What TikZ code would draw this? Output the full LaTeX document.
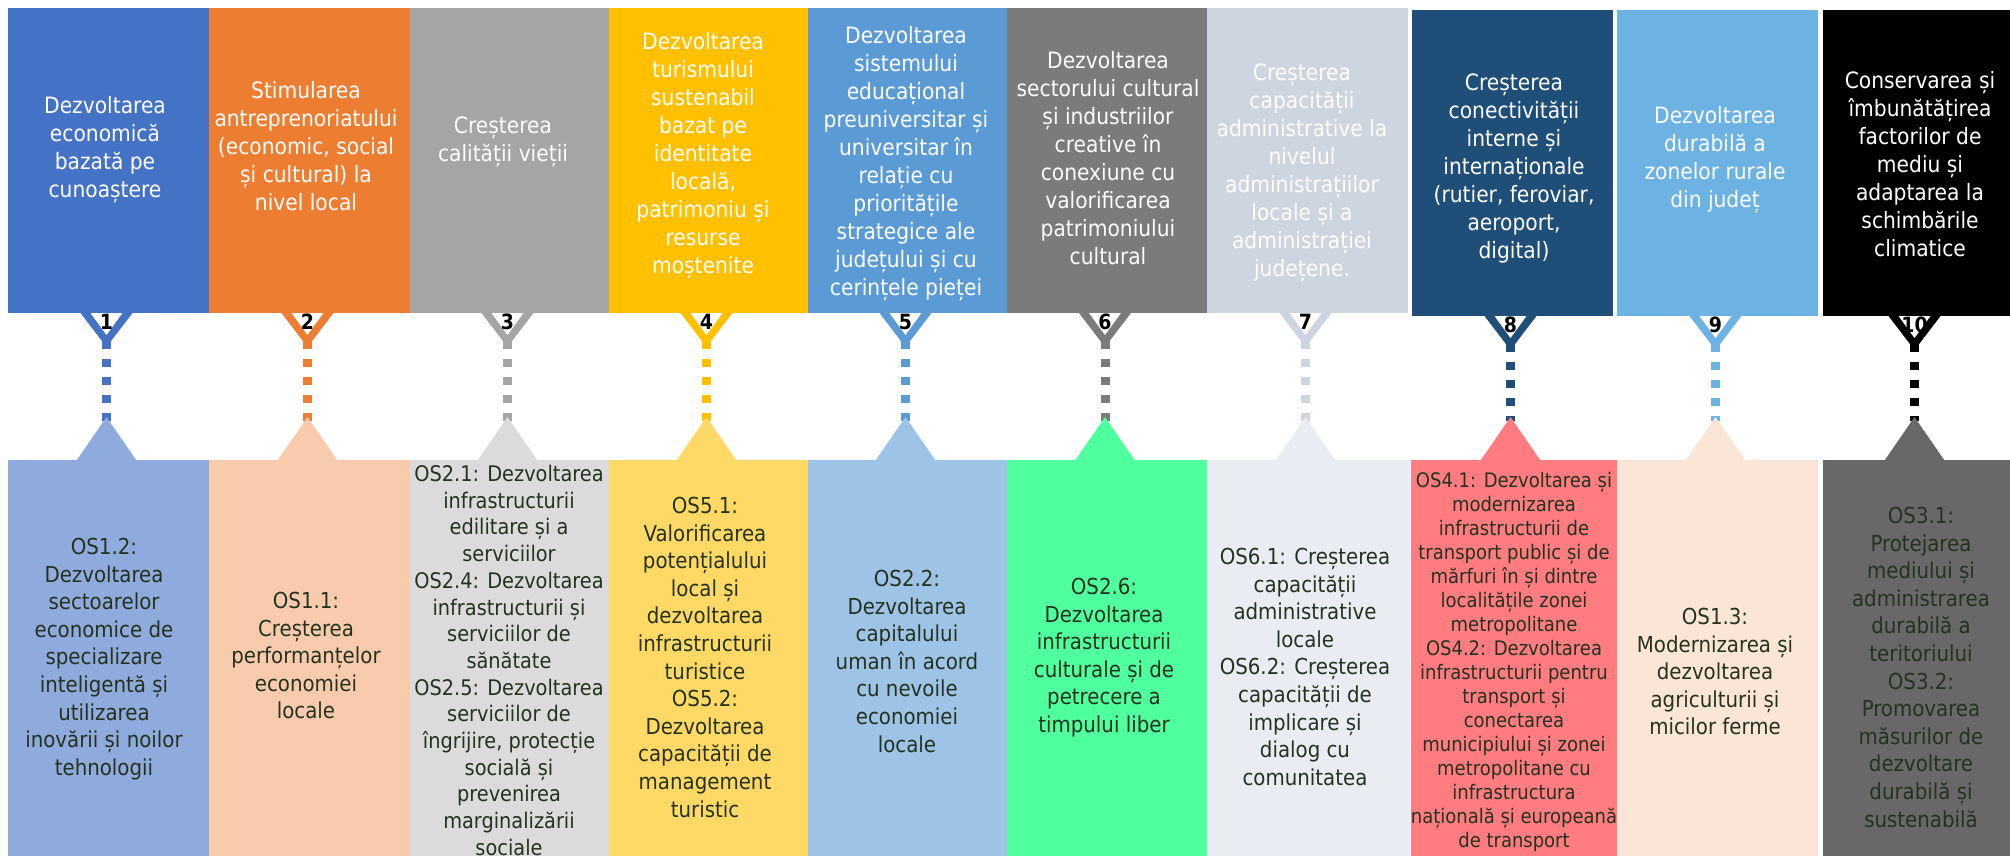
\documentclass[tikz,border=0pt]{standalone}
\usepackage{fontspec}
\setmainfont{DejaVu Sans Condensed}
\usetikzlibrary{calc}
\definecolor{tA}{HTML}{4472C4}
\definecolor{tB}{HTML}{ED7D31}
\definecolor{tC}{HTML}{A5A5A5}
\definecolor{tD}{HTML}{FFC000}
\definecolor{tE}{HTML}{5B9BD5}
\definecolor{tF}{HTML}{7B7B7B}
\definecolor{tG}{HTML}{CDD5E0}
\definecolor{tH}{HTML}{1F4E79}
\definecolor{tI}{HTML}{6CB2E2}
\definecolor{tJ}{HTML}{000000}
\definecolor{bA}{HTML}{8FAADC}
\definecolor{bB}{HTML}{F8CBAD}
\definecolor{bC}{HTML}{DBDBDB}
\definecolor{bD}{HTML}{FFD966}
\definecolor{bE}{HTML}{9DC3E6}
\definecolor{bF}{HTML}{50FF9E}
\definecolor{bG}{HTML}{E9EDF3}
\definecolor{bH}{HTML}{FF7C80}
\definecolor{bI}{HTML}{FBE5D6}
\definecolor{bJ}{HTML}{686868}
\definecolor{txtdark}{HTML}{25321F}
\begin{document}
\begin{tikzpicture}[x=1pt,y=-1pt,
  box/.style={rectangle,draw=none,inner sep=0pt,outer sep=0pt,anchor=north west},
  ttext/.style={anchor=north,inner sep=0pt,align=center,text=white,font=\fontsize{22.5}{28}\selectfont},
  btext/.style={anchor=north,inner sep=0pt,align=center,text=txtdark,font=\fontsize{22}{27.6}\selectfont},
  num/.style={inner sep=0pt,text=black,font=\bfseries\fontsize{21}{21}\selectfont},
  dashline/.style={line width=9pt,dash pattern=on 8pt off 10pt}]
\useasboundingbox (0,0) rectangle (2010,855);
\clip (0,0) rectangle (2010,855);
\fill[white] (0,0) rectangle (2010,855);
\foreach \i/\l/\w/\t/\h/\ct/\bl/\bw/\cb in {
  1/8/201/8/305/tA/8/201/bA,
  2/209/201/8/305/tB/209/201/bB,
  3/410/199/8/305/tC/410/199/bC,
  4/609/199/8/305/tD/609/199/bD,
  5/808/199/8/305/tE/808/199/bE,
  6/1007/200/8/305/tF/1007/200/bF,
  7/1207/201/8/305/tG/1207/203/bG,
  8/1412/201/10/306/tH/1411/206/bH,
  9/1617/201/10/306/tI/1617/201/bI,
  10/1823/187/10/306/tJ/1823/187/bJ}{
  \node[box,fill=\ct,minimum width=\w pt,minimum height=\h pt] (t\i) at (\l,\t) {};
  \node[box,fill=\cb,minimum width=\bw pt,minimum height=400pt] (b\i) at (\bl,460) {};
  \coordinate (m\i) at ($(t\i.south)+(-2,0)$);
  \coordinate (v\i) at ($(m\i)+(0,28)$);
  \coordinate (w\i) at ($(m\i |- b\i.north)+(0,-39)$);
  \draw[dashline,draw=\ct] (v\i) -- (w\i);
  \fill[\ct] ($(m\i)+(-26,0)$) -- ($(m\i)+(26,0)$) -- ($(m\i)+(0,34)$) -- cycle;
  \fill[white] ($(m\i)+(-16,0)$) -- ($(m\i)+(16,0)$) -- ($(m\i)+(0,22)$) -- cycle;
  \node[num] (n\i) at ($(m\i)+(0,9)$) {\i};
  \fill[\cb] ($(m\i |- b\i.north)+(-30,0.5)$) -- ($(m\i |- b\i.north)+(30,0.5)$) -- ($(m\i |- b\i.north)+(0,-43)$) -- cycle;
}
% headings
\node[ttext] (h1) at (105,96) {Dezvoltarea\\economică\\bazată pe\\cunoaștere};
\node[ttext] (h2) at (306,81) {Stimularea\\antreprenoriatului\\(economic, social\\și cultural) la\\nivel local};
\node[ttext] (h3) at (503,117) {Creșterea\\calității vieții};
\node[ttext] (h4) at (703,32) {Dezvoltarea\\turismului\\sustenabil\\bazat pe\\identitate\\locală,\\patrimoniu și\\resurse\\moștenite};
\node[ttext] (h5) at (906,26) {Dezvoltarea\\sistemului\\educațional\\preuniversitar și\\universitar în\\relație cu\\prioritățile\\strategice ale\\județului și cu\\cerințele pieței};
\node[ttext] (h6) at (1108,51) {Dezvoltarea\\sectorului cultural\\și industriilor\\creative în\\conexiune cu\\valorificarea\\patrimoniului\\cultural};
\node[ttext] (h7) at (1302,64) {Creșterea\\capacității\\administrative la\\nivelul\\administrațiilor\\locale și a\\administrației\\județene.};
\node[ttext] (h8) at (1514,74) {Creșterea\\conectivității\\interne și\\internaționale\\(rutier, feroviar,\\aeroport,\\digital)};
\node[ttext] (h9) at (1715,106) {Dezvoltarea\\durabilă a\\zonelor rurale\\din județ};
\node[ttext] (h10) at (1920,71) {Conservarea și\\îmbunătățirea\\factorilor de\\mediu și\\adaptarea la\\schimbările\\climatice};
% objectives
\node[btext] (o1) at (104,538) {OS1.2:\\Dezvoltarea\\sectoarelor\\economice de\\specializare\\inteligentă  și\\utilizarea\\inovării și noilor\\tehnologii};
\node[btext] (o2) at (306,592) {OS1.1:\\Creșterea\\performanțelor\\economiei\\locale};
\node[btext,font=\fontsize{21.5}{26.7}\selectfont] (o3) at (509,465) {OS2.1: Dezvoltarea\\infrastructurii\\edilitare și a\\serviciilor\\OS2.4: Dezvoltarea\\infrastructurii și\\serviciilor de\\sănătate\\OS2.5: Dezvoltarea\\serviciilor de\\îngrijire, protecție\\socială și\\prevenirea\\marginalizării\\sociale};
\node[btext] (o4) at (705,497) {OS5.1:\\Valorificarea\\potențialului\\local și\\dezvoltarea\\infrastructurii\\turistice\\OS5.2:\\Dezvoltarea\\capacității de\\management\\turistic};
\node[btext] (o5) at (907,570) {OS2.2:\\Dezvoltarea\\capitalului\\uman în acord\\cu nevoile\\economiei\\locale};
\node[btext] (o6) at (1104,578) {OS2.6:\\Dezvoltarea\\infrastructurii\\culturale și de\\petrecere a\\timpului liber};
\node[btext] (o7) at (1305,548) {OS6.1: Creșterea\\capacității\\administrative\\locale\\OS6.2: Creșterea\\capacității de\\implicare și\\dialog cu\\comunitatea};
\node[btext,font=\fontsize{20}{24}\selectfont] (o8) at (1514,472) {OS4.1: Dezvoltarea și\\modernizarea\\infrastructurii de\\transport public și de\\mărfuri în și dintre\\localitățile zonei\\metropolitane\\OS4.2: Dezvoltarea\\infrastructurii pentru\\transport și\\conectarea\\municipiului și zonei\\metropolitane cu\\infrastructura\\națională și europeană\\de transport};
\node[btext] (o9) at (1715,608) {OS1.3:\\Modernizarea și\\dezvoltarea\\agriculturii și\\micilor ferme};
\node[btext] (o10) at (1921,507) {OS3.1:\\Protejarea\\mediului și\\administrarea\\durabilă a\\teritoriului\\OS3.2:\\Promovarea\\măsurilor de\\dezvoltare\\durabilă și\\sustenabilă};
\end{tikzpicture}
\end{document}
